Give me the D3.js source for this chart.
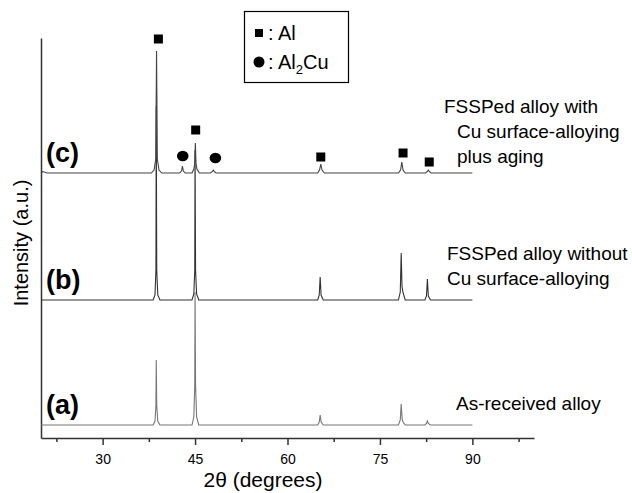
<!DOCTYPE html>
<html>
<head>
<meta charset="utf-8">
<script src="https://cdn.jsdelivr.net/npm/d3@7/dist/d3.min.js"></script>
<style>
  html, body { margin: 0; padding: 0; background: #fff; }
  svg { display: block; font-family: "Liberation Sans", Arial, sans-serif; }
</style>
</head>
<body>
<svg id="chart" width="632" height="493"></svg>
<script>
// XRD patterns: [2θ (deg), intensity above the pattern's own baseline]
const patternA = [
  [20, 0], [38.2, 0], [38.5, 4], [38.65, 20], [38.7, 65], [38.78, 20], [38.95, 4], [39.3, 0],
  [44.5, 0], [44.8, 8], [44.95, 40], [45.0, 133], [45.08, 40], [45.25, 8], [45.6, 0],
  [64.9, 0], [65.15, 3], [65.3, 10], [65.45, 3], [65.8, 0],
  [78.0, 0], [78.3, 5], [78.45, 21], [78.6, 6], [78.75, 3], [79.1, 0],
  [82.3, 0], [82.55, 1.5], [82.7, 4], [82.85, 1.5], [83.2, 0],
  [90, 0]
];
const patternB = [
  [20, 0], [38.2, 0], [38.5, 5], [38.65, 30], [38.7, 194], [38.78, 30], [38.95, 5], [39.3, 0],
  [44.5, 0], [44.8, 6], [44.95, 30], [45.0, 150], [45.08, 30], [45.25, 6], [45.6, 0],
  [64.9, 0], [65.15, 5], [65.3, 23], [65.45, 5], [65.8, 0],
  [78.0, 0], [78.3, 8], [78.45, 47], [78.58, 14], [78.72, 8], [79.1, 0],
  [82.3, 0], [82.55, 4], [82.7, 21], [82.85, 4], [83.2, 0],
  [90, 0]
];
const patternC = [
  [20, 0], [20.3, 1.5], [21, 0], [37.9, 0], [38.35, 3], [38.62, 14], [38.75, 122], [38.88, 14], [39.15, 3], [39.6, 0],
  [42.5, 0], [42.8, 2], [42.95, 7], [43.1, 2], [43.4, 0],
  [44.5, 0], [44.8, 4], [44.95, 10], [45.05, 30], [45.15, 10], [45.3, 4], [45.7, 0],
  [47.5, 0], [47.8, 1.5], [47.95, 3], [48.1, 1.5], [48.4, 0],
  [64.9, 0], [65.2, 3], [65.4, 9], [65.6, 3], [66.0, 0],
  [78.0, 0], [78.35, 3], [78.55, 11], [78.75, 3], [79.1, 0],
  [82.4, 0], [82.7, 1.5], [82.85, 3], [83.0, 1.5], [83.3, 0],
  [90, 0]
];

// vertical offset of each pattern in the stack (a.u.)
const offsets = { a: 13, b: 138, c: 265 };

// phase markers above pattern (c): [2θ, intensity level]
const alMarks = [[39.05, 399], [45.1, 308], [65.4, 281], [78.75, 285], [83.0, 276]];
const al2cuMarks = [[43.0, 282], [48.3, 280]];

const xTicks = [30, 45, 60, 75, 90];
const xMinorTicks = [22.5, 37.5, 52.5, 67.5, 82.5, 97.5];

const svg = d3.select("#chart");
const x = d3.scaleLinear().domain([20, 100]).range([41, 534]);
const y = d3.scaleLinear().domain([0, 400]).range([438, 38]);

// axes
const gx = svg.append("g").attr("transform", `translate(0,${y(0)})`);
gx.call(d3.axisBottom(x).tickValues(xMinorTicks).tickSize(4).tickSizeOuter(0).tickFormat(""));
const gx2 = svg.append("g").attr("transform", `translate(0,${y(0)})`);
gx2.call(d3.axisBottom(x).tickValues(xTicks).tickSize(7).tickSizeOuter(0).tickPadding(9));
gx2.select(".domain").remove();
gx2.selectAll("text").attr("font-size", 14).attr("font-family", "Liberation Sans, Arial, sans-serif").attr("fill", "#000");
const gy = svg.append("g").attr("transform", `translate(${x(20)},0)`);
gy.call(d3.axisLeft(y).tickValues([]).tickSizeOuter(0));
svg.selectAll(".domain, .tick line").attr("stroke", "#333").attr("stroke-width", 1.5);

// patterns
const line = d3.line().x(d => x(d[0]));
const series = [
  { key: "a", data: patternA, color: "#777" },
  { key: "b", data: patternB, color: "#333" },
  { key: "c", data: patternC, color: "#444" }
];
series.forEach(s => {
  const off = offsets[s.key];
  svg.append("path")
    .datum(s.data)
    .attr("fill", "none")
    .attr("stroke", s.color)
    .attr("stroke-width", 1.1)
    .attr("d", line.y(d => y(off + d[1])));
});

// phase markers
svg.selectAll("rect.al").data(alMarks).join("rect")
  .attr("class", "al")
  .attr("x", d => x(d[0]) - 4.5).attr("y", d => y(d[1]) - 4.5)
  .attr("width", 9).attr("height", 9).attr("fill", "#000");
svg.selectAll("ellipse.al2cu").data(al2cuMarks).join("ellipse")
  .attr("class", "al2cu")
  .attr("cx", d => x(d[0])).attr("cy", d => y(d[1]))
  .attr("rx", 5.8).attr("ry", 5.3).attr("fill", "#000");

// pattern labels
const labels = [
  { text: "(c)", yv: offsets.c },
  { text: "(b)", yv: offsets.b },
  { text: "(a)", yv: offsets.a }
];
svg.selectAll("text.plabel").data(labels).join("text")
  .attr("class", "plabel")
  .attr("x", 46).attr("y", d => y(d.yv) - 11)
  .attr("font-size", 27).attr("font-weight", "bold").text(d => d.text);

// sample descriptions
const notes = [
  { x: 444, y: 113, t: "FSSPed alloy with" },
  { x: 457, y: 138, t: "Cu surface-alloying" },
  { x: 457, y: 163, t: "plus aging" },
  { x: 447, y: 260, t: "FSSPed alloy without" },
  { x: 447, y: 285, t: "Cu surface-alloying" },
  { x: 456, y: 410, t: "As-received alloy" }
];
svg.selectAll("text.note").data(notes).join("text")
  .attr("class", "note")
  .attr("x", d => d.x).attr("y", d => d.y)
  .attr("font-size", 19).text(d => d.t);

// legend
const lg = svg.append("g");
lg.append("rect").attr("x", 244.5).attr("y", 11.5).attr("width", 104).attr("height", 71)
  .attr("fill", "#fff").attr("stroke", "#000").attr("stroke-width", 1.2);
lg.append("rect").attr("x", 255).attr("y", 29).attr("width", 8).attr("height", 8).attr("fill", "#000");
lg.append("circle").attr("cx", 259).attr("cy", 62).attr("r", 5.5).attr("fill", "#000");
lg.append("text").attr("x", 268).attr("y", 40).attr("font-size", 20).text(": Al");
const t2 = lg.append("text").attr("x", 268).attr("y", 69).attr("font-size", 20);
t2.append("tspan").text(": Al");
t2.append("tspan").attr("font-size", 13).attr("dy", 5).text("2");
t2.append("tspan").attr("dy", -5).text("Cu");

// axis titles
svg.append("text").attr("x", 263).attr("y", 487).attr("text-anchor", "middle")
  .attr("font-size", 21).text("2θ (degrees)");
svg.append("text").attr("transform", "translate(28,243) rotate(-90)")
  .attr("text-anchor", "middle").attr("font-size", 20).text("Intensity (a.u.)");
</script>
</body>
</html>
